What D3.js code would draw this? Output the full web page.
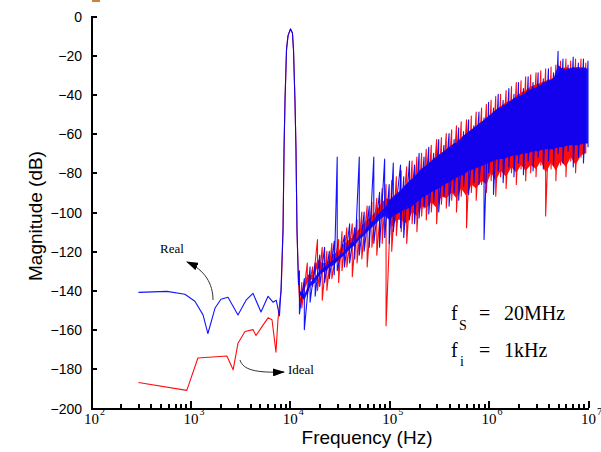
<!DOCTYPE html>
<html>
<head>
<meta charset="utf-8">
<script src="https://cdn.jsdelivr.net/npm/d3@7"></script>
<style>
  body { margin: 0; background: #fff; }
  svg { display: block; }
  .axis path, .axis line { stroke: #000; stroke-width: 2; shape-rendering: crispEdges; }
  .axis text { font-family: "Liberation Sans", Arial, sans-serif; font-size: 14px; fill: #000; }
</style>
</head>
<body>
<div id="chart"></div>
<script>
// ── Axis ticks ─────────────────────────────────────────────────────────────
const dbTicks = [0, -20, -40, -60, -80, -100, -120, -140, -160, -180, -200];
const decadeTicks = [1e2, 1e3, 1e4, 1e5, 1e6, 1e7];
const decadeExponents = ['2', '3', '4', '5', '6', '7'];

// ── "Real" (blue): low-frequency floor + 10 kHz carrier ────────────────────
const realLowFreq = [300, 580, 880, 1110, 1340, 1500, 1770, 2030, 2390, 3010, 3630, 4260, 5130, 6040, 6780, 7300, 7870,
  8150, 8550, 8750, 8950, 9270, 9600, 10160, 10630, 10890, 11270, 11540, 11810, 12240];
const realLowDb = [-141, -140.5, -142, -145.5, -152.5, -162, -149, -144.5, -143.5, -152.5, -145, -141.5, -151, -143, -146, -145, -153,
  -140, -109, -68, -43, -17, -10, -6.6, -8.7, -17, -43, -68, -109, -137];

// "Real" noise: upper / lower swing at each frequency, and the solid core
const realNoiseFreq = [1.25e4, 1.4e4, 1.6e4, 1.8e4, 2e4, 2.24e4, 2.5e4, 2.8e4, 3e4, 3.55e4, 4e4, 4.5e4, 5e4, 5.6e4, 6.3e4, 7e4, 8e4, 9e4,
  1e5, 1.1e5, 1.3e5, 1.4e5, 1.6e5, 1.8e5, 2e5, 2.24e5, 2.5e5, 2.8e5, 3.15e5, 3.55e5, 4e5, 4.5e5, 5e5, 5.6e5, 6.3e5, 7.1e5, 8e5, 9e5,
  1e6, 1.12e6, 1.25e6, 1.4e6, 1.6e6, 1.8e6, 2e6, 2.24e6, 2.5e6, 2.8e6, 3.15e6, 3.55e6, 4e6, 4.5e6, 5e6, 5.6e6, 6.3e6, 7.1e6, 8e6, 9e6, 1e7];
const realNoiseHi = [-130, -134, -128, -126, -122, -118, -120, -115, -72, -112, -106, -108, -72, -100, -97, -72, -90, -73,
  -86, -75, -76, -82, -74, -76, -70, -72, -67, -70, -63, -66, -60, -63, -57, -59, -53, -56, -49, -52,
  -44, -47, -40, -43, -37, -40, -34, -37, -31, -34, -29, -32, -27, -29, -18, -22, -25, -21, -24, -22, -23];
const realNoiseLo = [-152, -160, -146, -143, -138, -136, -134, -132, -130, -128, -126, -124, -122, -120, -118, -116, -118, -113,
  -116, -110, -108, -113, -104, -106, -103, -98, -101, -95, -100, -92, -97, -90, -94, -87, -91, -85, -86, -114,
  -80, -91, -79, -85, -77, -82, -75, -81, -74, -79, -72, -78, -74, -76, -70, -75, -69, -77, -72, -75, -67];
const realCoreTop = [-140, -142, -136, -133, -130, -128, -126, -124, -123, -120, -116, -115, -112, -110, -106, -104, -100, -98,
  -94, -92, -89, -87, -84, -82, -79, -77, -75, -73, -71, -69, -67, -65, -64, -61, -59, -57, -55, -53,
  -51, -49, -47, -46, -44, -42, -41, -40, -38, -37, -36, -34, -33, -32, -25, -27, -27, -26, -27, -26, -27];
const realCoreBottom = [-142, -145, -138, -136, -132, -130, -128, -127, -125, -122, -119, -117, -114, -112, -109, -107, -104, -102,
  -104, -102, -100, -99, -98, -96, -94, -92, -91, -89, -88, -86, -85, -83, -82, -81, -79, -78, -77, -76,
  -75, -74, -73, -73, -72, -71, -71, -70, -70, -69, -69, -68, -68, -68, -67, -67, -66, -66, -66, -65, -65];

// ── "Ideal" (red) ──────────────────────────────────────────────────────────
const idealLowFreq = [300, 920, 1190, 2330, 2690, 3010, 3540, 4260, 4570, 5250, 6040, 6620, 7260, 7600, 7960,
  8200, 8550, 8750, 8950, 9270, 9600, 10160, 10630, 10890, 11270, 11540, 11810, 12240, 12680];
const idealLowDb = [-187, -191, -174.5, -173.5, -180.5, -167, -161, -160, -163, -158.5, -154, -155, -171.5, -155, -145,
  -140, -109, -68, -43, -17, -10, -6.6, -8.7, -17, -43, -68, -109, -137, -148];

const idealNoiseFreq = [1.32e4, 1.5e4, 1.7e4, 1.9e4, 2.12e4, 2.36e4, 2.65e4, 3.1e4, 3.35e4, 3.75e4, 4.25e4, 4.75e4, 5.3e4, 6e4, 6.7e4, 7.5e4, 8.5e4, 9.3e4,
  1.06e5, 1.18e5, 1.32e5, 1.5e5, 1.7e5, 1.9e5, 2.12e5, 2.36e5, 2.65e5, 3e5, 3.35e5, 3.75e5, 4.25e5, 4.75e5, 5.3e5, 6e5, 6.7e5, 7.5e5, 8.5e5, 9.5e5,
  1.06e6, 1.18e6, 1.32e6, 1.5e6, 1.7e6, 1.9e6, 2.12e6, 2.36e6, 2.65e6, 3e6, 3.35e6, 3.75e6, 4.25e6, 4.75e6, 5.3e6, 6e6, 6.7e6, 7.5e6, 8.5e6, 9.5e6];
const idealNoiseHi = [-136, -126, -128, -114, -118, -120, -116, -114, -110, -108, -106, -104, -100, -97, -95, -93, -88, -86,
  -84, -82, -79, -77, -74, -72, -70, -68, -66, -63, -62, -60, -58, -56, -54, -53, -51, -49, -47, -45,
  -43, -41, -40, -38, -36, -34, -33, -31, -30, -29, -28, -27, -26, -25, -23, -22, -23, -22, -22, -24];
const idealNoiseLo = [-149, -142, -138, -140, -145, -140, -134, -136, -130, -128, -133, -126, -124, -128, -118, -122, -116, -158,
  -120, -112, -110, -116, -106, -110, -102, -104, -100, -106, -96, -98, -94, -100, -92, -108, -90, -94, -86, -90,
  -84, -92, -82, -88, -80, -86, -78, -84, -80, -82, -76, -102, -78, -84, -76, -82, -74, -80, -72, -70];
const idealCoreTop = [-140, -132, -132, -124, -126, -126, -122, -120, -117, -115, -113, -110, -107, -104, -102, -99, -95, -93,
  -94, -92, -89, -86, -83, -81, -78, -76, -74, -71, -70, -68, -66, -64, -62, -60, -58, -56, -54, -52,
  -50, -48, -46, -44, -43, -41, -39, -38, -36, -35, -34, -33, -32, -31, -27, -26, -27, -26, -26, -28];
const idealCoreBottom = [-143, -136, -134, -128, -131, -130, -126, -125, -121, -119, -118, -114, -111, -110, -106, -104, -100, -99,
  -108, -104, -104, -106, -100, -102, -97, -98, -95, -98, -92, -93, -90, -93, -88, -92, -86, -88, -84, -86,
  -80, -84, -79, -82, -77, -80, -76, -79, -76, -78, -74, -80, -75, -79, -74, -77, -72, -76, -71, -70];

// ── Layout ─────────────────────────────────────────────────────────────────
const W = 601, H = 452;
const X0 = 91, X1 = 588, Y0 = 408, Y1 = 16;
const SANS = '"Liberation Sans", Arial, sans-serif';
const SERIF = '"Liberation Serif", "Times New Roman", serif';
const BLUE = '#0000ff', RED = '#ff0000';

const svg = d3.select('#chart').append('svg')
  .attr('width', W).attr('height', H)
  .style('background', '#fff');

const x = d3.scaleLog().domain([1e2, 1e7]).range([X0, X1]);
const y = d3.scaleLinear().domain([-200, 0]).range([Y0, Y1]);

const line = d3.line().x(d => x(d[0])).y(d => y(d[1]));
const area = d3.area().x(d => x(d[0])).y0(d => y(d[2])).y1(d => y(d[1]));

// low segment followed by zig-zag through the noise swings
function tracePoints(lowF, lowV, nF, nHi, nLo) {
  const pts = lowF.map((f, i) => [f, lowV[i]]);
  nF.forEach((f, i) => { pts.push([f, nHi[i]]); pts.push([f, nLo[i]]); });
  return pts;
}

function drawSeries(g, color, lowF, lowV, nF, nHi, nLo, cTop, cBot) {
  g.append('path')
    .datum(nF.map((f, i) => [f, cTop[i], cBot[i]]))
    .attr('d', area)
    .attr('fill', color);
  g.append('path')
    .datum(tracePoints(lowF, lowV, nF, nHi, nLo))
    .attr('d', line)
    .attr('fill', 'none')
    .attr('stroke', color)
    .attr('stroke-width', 1.1)
    .attr('stroke-linejoin', 'round');
}

const plot = svg.append('g');
drawSeries(plot.append('g').attr('opacity', 0.95), RED,
  idealLowFreq, idealLowDb, idealNoiseFreq, idealNoiseHi, idealNoiseLo, idealCoreTop, idealCoreBottom);
drawSeries(plot.append('g').attr('opacity', 0.92), BLUE,
  realLowFreq, realLowDb, realNoiseFreq, realNoiseHi, realNoiseLo, realCoreTop, realCoreBottom);

// ── Axes ───────────────────────────────────────────────────────────────────
const yAxis = svg.append('g')
  .attr('class', 'axis')
  .attr('transform', `translate(${X0},0)`)
  .call(d3.axisLeft(y).tickValues(dbTicks).tickSizeInner(-6).tickSizeOuter(0).tickPadding(9));
yAxis.selectAll('text').attr('dy', '0.36em');

// minor ticks (2..9 of each decade)
svg.append('g')
  .attr('class', 'axis')
  .attr('transform', `translate(0,${Y0})`)
  .call(d3.axisBottom(x).tickValues(x.ticks()).tickSizeInner(-4).tickSizeOuter(0).tickFormat(''))
  .call(g => g.select('.domain').remove());

svg.append('g')
  .attr('class', 'axis')
  .attr('transform', `translate(0,${Y0})`)
  .call(d3.axisBottom(x).tickValues(decadeTicks).tickSizeInner(-7).tickSizeOuter(0).tickFormat(''));

// decade labels "10" with superscript exponent
decadeTicks.forEach((v, i) => {
  const tx = x(v);
  svg.append('text')
    .attr('x', tx - 7).attr('y', 424)
    .attr('font-family', SERIF).attr('font-size', 15)
    .text('10');
  svg.append('text')
    .attr('x', tx + 9).attr('y', 415)
    .attr('font-family', SERIF).attr('font-size', 10)
    .text(decadeExponents[i]);
});

// axis titles
svg.append('text')
  .attr('transform', `translate(42,${(Y0 + Y1) / 2 + 4}) rotate(-90)`)
  .attr('text-anchor', 'middle')
  .attr('font-family', SANS).attr('font-size', 19)
  .text('Magnitude (dB)');

svg.append('text')
  .attr('x', 367).attr('y', 444)
  .attr('text-anchor', 'middle')
  .attr('font-family', SANS).attr('font-size', 19)
  .text('Frequency (Hz)');

// ── Annotations ────────────────────────────────────────────────────────────
const defs = svg.append('defs');
defs.append('marker')
  .attr('id', 'head')
  .attr('viewBox', '0 0 12 8')
  .attr('refX', 11).attr('refY', 4)
  .attr('markerWidth', 12).attr('markerHeight', 8)
  .attr('markerUnits', 'userSpaceOnUse')
  .attr('orient', 'auto')
  .append('path').attr('d', 'M0,0 L12,4 L0,8 Z').attr('fill', '#000');

svg.append('path')
  .attr('d', 'M213,300 C213,284 205,270 187,262')
  .attr('fill', 'none').attr('stroke', '#333').attr('stroke-width', 1)
  .attr('marker-end', 'url(#head)');
svg.append('text')
  .attr('x', 160).attr('y', 253)
  .attr('font-family', SERIF).attr('font-size', 13)
  .text('Real');

svg.append('path')
  .attr('d', 'M240,360 C243,370 256,373 284,372')
  .attr('fill', 'none').attr('stroke', '#333').attr('stroke-width', 1)
  .attr('marker-end', 'url(#head)');
svg.append('text')
  .attr('x', 288).attr('y', 374)
  .attr('font-family', SERIF).attr('font-size', 13)
  .text('Ideal');

// sampling / input frequency note
const note = svg.append('g').attr('font-family', SERIF).attr('fill', '#000');
note.append('text').attr('x', 451).attr('y', 320).attr('font-size', 20).text('f');
note.append('text').attr('x', 459).attr('y', 330).attr('font-size', 14).text('S');
note.append('text').attr('x', 479).attr('y', 320).attr('font-size', 20).text('=');
note.append('text').attr('x', 504).attr('y', 320).attr('font-size', 20).text('20MHz');
note.append('text').attr('x', 451).attr('y', 357).attr('font-size', 20).text('f');
note.append('text').attr('x', 460).attr('y', 366).attr('font-size', 14).text('i');
note.append('text').attr('x', 479).attr('y', 357).attr('font-size', 20).text('=');
note.append('text').attr('x', 504).attr('y', 357).attr('font-size', 20).text('1kHz');

// stray mark from the source page at the top edge
svg.append('rect').attr('x', 92).attr('y', 0).attr('width', 8).attr('height', 2).attr('fill', '#c8843c');
</script>
</body>
</html>
